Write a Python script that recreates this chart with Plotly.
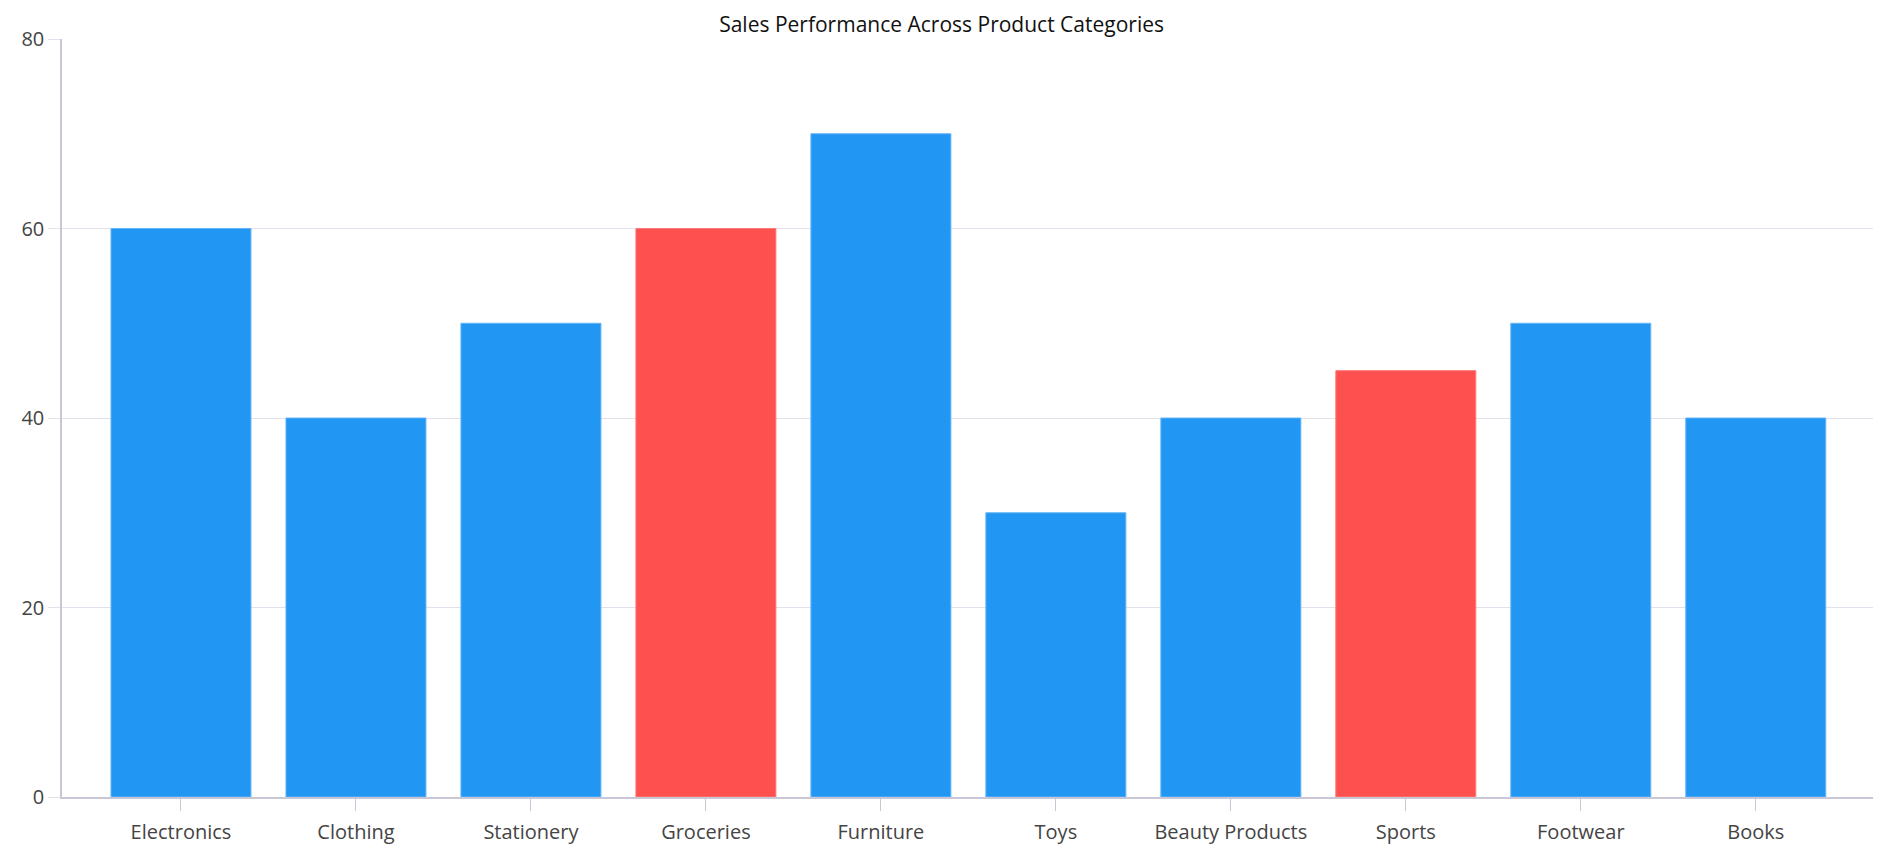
import plotly.graph_objects as go

categories = ["Electronics", "Clothing", "Stationery", "Groceries", "Furniture",
              "Toys", "Beauty Products", "Sports", "Footwear", "Books"]
sales = [60, 40, 50, 60, 70, 30, 40, 45, 50, 40]
highlight = [False, False, False, True, False, False, False, True, False, False]
y_ticks = [0, 20, 40, 60, 80]

BLUE = "#2196F3"
RED = "#FF5050"
colors = [RED if h else BLUE for h in highlight]
line_colors = ["#FF7A7A" if h else "#64B5F6" for h in highlight]

fig = go.Figure(go.Bar(
    x=categories, y=sales,
    marker=dict(color=colors, line=dict(color=line_colors, width=1)),
    hoverinfo="x+y",
))

fig.update_layout(
    width=1891, height=861,
    paper_bgcolor="white", plot_bgcolor="white",
    margin=dict(l=54, r=26, t=31, b=72),
    bargap=0.2,
    showlegend=False,
    font=dict(family="Open Sans", size=20, color="#444444"),
    title=dict(text="Sales Performance Across Product Categories",
               x=0.4937, xanchor="center", y=1 - 17 / 861, yanchor="middle",
               font=dict(family="Open Sans", size=21, color="#111111")),
)
fig.update_xaxes(
    range=[-0.68, 9.67],
    showline=True, linecolor="#C9C6D6", linewidth=1.5,
    ticks="outside", ticklen=12, tickcolor="#C9C6D6",
    ticklabelstandoff=4,
    showgrid=False, tickfont=dict(size=20, color="#444444"),
)
fig.update_yaxes(
    range=[0, 80], tickvals=y_ticks,
    showline=True, linecolor="#C9C6D6", linewidth=1.5,
    ticks="outside", ticklen=12, tickcolor="#E3E0EB",
    showgrid=True, gridcolor="#E3E0EB", gridwidth=1.2, zeroline=False,
    tickfont=dict(size=20, color="#444444"),
)

fig.write_html("out.html")
